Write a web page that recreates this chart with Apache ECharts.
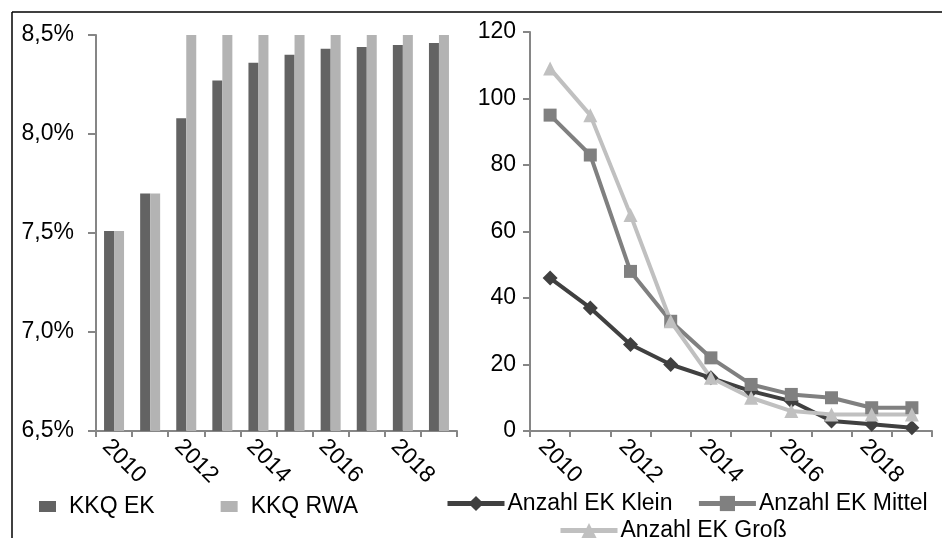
<!DOCTYPE html>
<html>
<head>
<meta charset="utf-8">
<script src="https://cdn.jsdelivr.net/npm/echarts@6/dist/echarts.min.js"></script>
<style>
  html, body { margin: 0; padding: 0; background: #fff; }
  #chart { width: 942px; height: 538px; }
</style>
</head>
<body>
<div id="chart"></div>
<script>
const years = ['2010', '2011', '2012', '2013', '2014', '2015', '2016', '2017', '2018', '2019']
const kkqEK = [7.51, 7.70, 8.08, 8.27, 8.36, 8.40, 8.43, 8.44, 8.45, 8.46]
const kkqRWA = [7.51, 7.70, 8.5, 8.5, 8.5, 8.5, 8.5, 8.5, 8.5, 8.5]
const ekKlein = [46, 37, 26, 20, 16, 12, 9, 3, 2, 1]
const ekMittel = [95, 83, 48, 33, 22, 14, 11, 10, 7, 7]
const ekGross = [109, 95, 65, 33, 16, 10, 6, 5, 5, 5]

const font = 'Liberation Sans, Arial, sans-serif'
const axisGray = '#868686'
const fs = 23

let mychart = echarts.init(document.getElementById('chart'))

// gemeinsame Achsen-Einstellungen
const catAxis = (gridIndex) => ({
    type: 'category',
    gridIndex: gridIndex,
    data: years,
    boundaryGap: true,
    axisLine: { lineStyle: { color: axisGray, width: 2 } },
    axisTick: { show: true, interval: 0, length: 6, lineStyle: { color: axisGray, width: 2 } },
    axisLabel: {
        interval: 1,
        rotate: -45,
        margin: 4,
        verticalAlign: 'top',
        color: '#000',
        fontSize: fs,
        fontFamily: font,
    },
})

const lineLegend = {
    itemWidth: 57,
    itemHeight: 19,
    lineStyle: { width: 5 },
    textStyle: { fontSize: fs, fontFamily: font, color: '#000', padding: [0, 0, 0, -2] },
}

mychart.setOption({
    backgroundColor: '#fff',
    animation: false,
    graphic: [
        { type: 'line', shape: { x1: 12, y1: 12, x2: 942, y2: 12 }, style: { stroke: '#000', lineWidth: 1.5 } },
        { type: 'line', shape: { x1: 12, y1: 12, x2: 12, y2: 538 }, style: { stroke: '#000', lineWidth: 1.5 } },
    ],
    grid: [
        { left: 96, right: 485, top: 35, bottom: 107 },
        { left: 530, right: 10, top: 32, bottom: 107 },
    ],
    legend: [
        {
            left: 34,
            top: 490,
            itemWidth: 17,
            itemHeight: 11,
            itemGap: 66,
            icon: 'rect',
            data: ['KKQ EK', 'KKQ RWA'],
            textStyle: { fontSize: fs, fontFamily: font, color: '#000', padding: [0, 0, 0, 8] },
        },
        Object.assign({ left: 440, top: 487, itemGap: 24, data: ['Anzahl EK Klein', 'Anzahl EK Mittel'] }, lineLegend),
        Object.assign({ left: 553, top: 514, data: ['Anzahl EK Groß'] }, lineLegend),
    ],
    xAxis: [catAxis(0), catAxis(1)],
    yAxis: [
        {
            type: 'value',
            gridIndex: 0,
            min: 6.5,
            max: 8.5,
            interval: 0.5,
            splitLine: { show: false },
            axisLine: { show: true, lineStyle: { color: axisGray, width: 2 } },
            axisTick: { show: true, length: 8, lineStyle: { color: axisGray, width: 2 } },
            axisLabel: {
                margin: 22,
                color: '#000',
                fontSize: fs,
                fontFamily: font,
                formatter: (v) => v.toFixed(1).replace('.', ',') + '%',
            },
        },
        {
            type: 'value',
            gridIndex: 1,
            min: 0,
            max: 120,
            interval: 20,
            splitLine: { show: false },
            axisLine: { show: true, lineStyle: { color: axisGray, width: 2 } },
            axisTick: { show: true, length: 7, lineStyle: { color: axisGray, width: 2 } },
            axisLabel: { margin: 14, color: '#000', fontSize: fs, fontFamily: font },
        },
    ],
    series: [
        {
            name: 'KKQ EK',
            type: 'bar',
            xAxisIndex: 0,
            yAxisIndex: 0,
            data: kkqEK,
            barWidth: 10,
            barGap: '0%',
            clip: true,
            itemStyle: { color: '#636363' },
        },
        {
            name: 'KKQ RWA',
            type: 'bar',
            xAxisIndex: 0,
            yAxisIndex: 0,
            data: kkqRWA,
            barWidth: 10,
            barGap: '0%',
            clip: true,
            itemStyle: { color: '#b3b3b3' },
        },
        {
            name: 'Anzahl EK Klein',
            type: 'line',
            xAxisIndex: 1,
            yAxisIndex: 1,
            data: ekKlein,
            symbol: 'diamond',
            symbolSize: 15,
            lineStyle: { color: '#404040', width: 4 },
            itemStyle: { color: '#404040' },
        },
        {
            name: 'Anzahl EK Mittel',
            type: 'line',
            xAxisIndex: 1,
            yAxisIndex: 1,
            data: ekMittel,
            symbol: 'rect',
            symbolSize: 13,
            lineStyle: { color: '#808080', width: 4 },
            itemStyle: { color: '#808080' },
        },
        {
            name: 'Anzahl EK Groß',
            type: 'line',
            xAxisIndex: 1,
            yAxisIndex: 1,
            data: ekGross,
            symbol: 'triangle',
            symbolSize: 14,
            lineStyle: { color: '#c0c0c0', width: 4 },
            itemStyle: { color: '#c0c0c0' },
        },
    ],
})
</script>
</body>
</html>
